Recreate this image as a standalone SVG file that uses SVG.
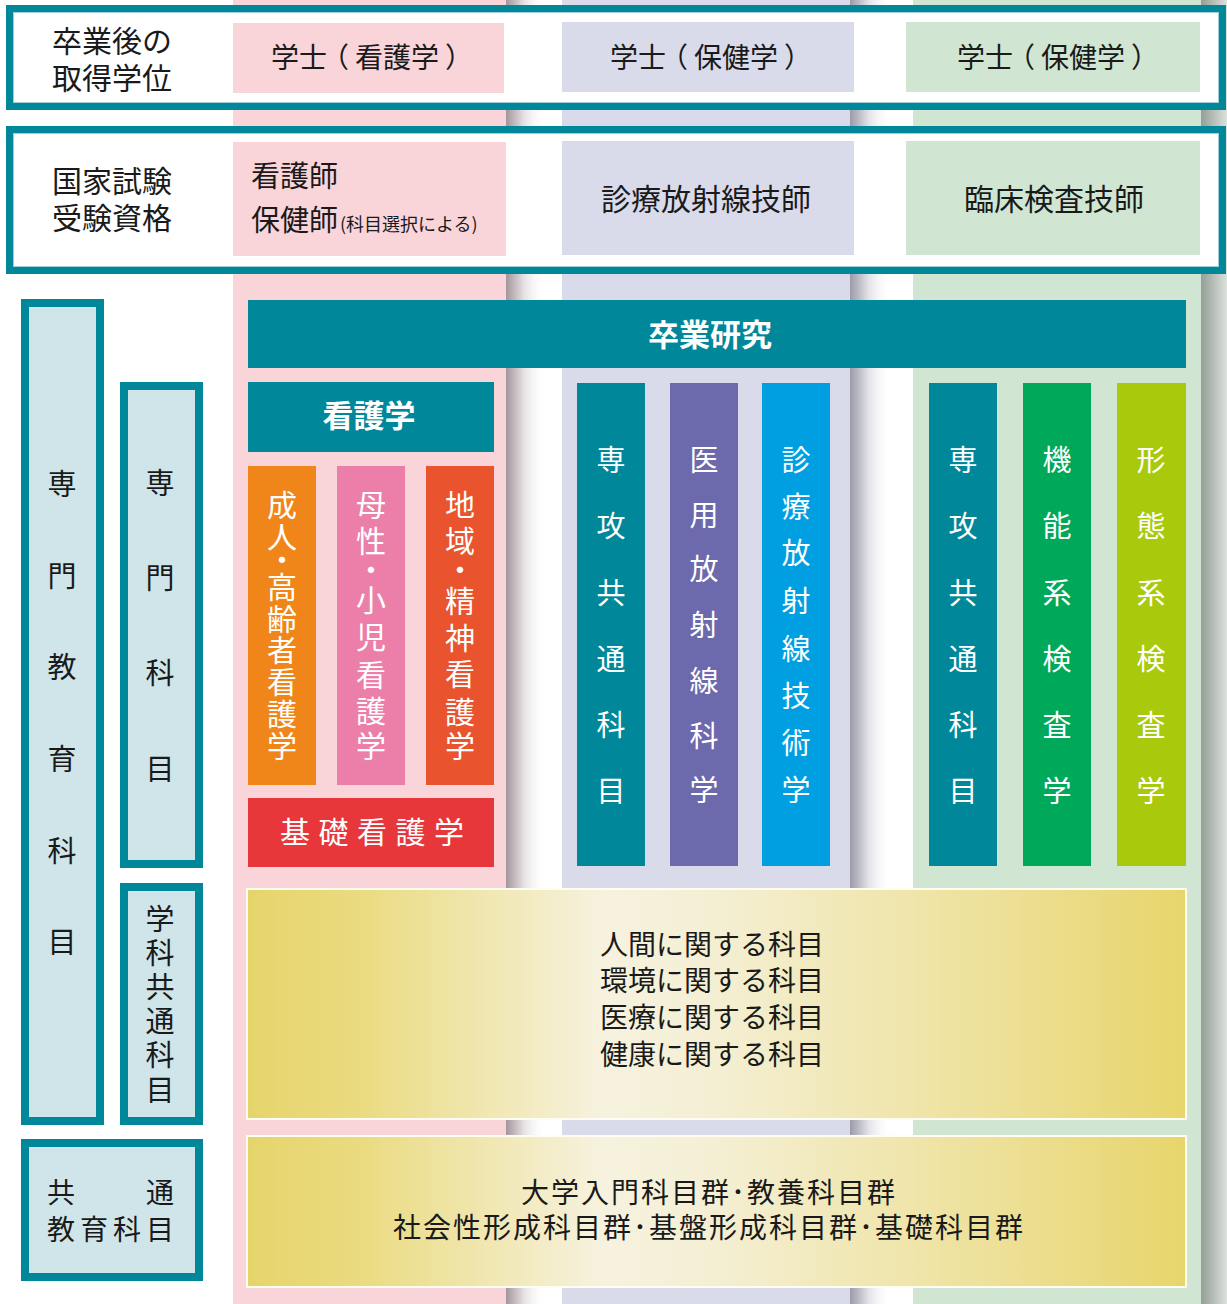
<svg xmlns="http://www.w3.org/2000/svg" width="1227" height="1304" viewBox="0 0 1227 1304">
<defs>
<style>
.t{font-family:"Noto Sans CJK JP","Noto Sans CJK SC",sans-serif;}
.dk{fill:#1a1a1a;}
.wt{fill:#ffffff;}
.mid{text-anchor:middle;}
.frame{fill:#ffffff;stroke:#00879a;stroke-width:7;}
.lbox{fill:#cfe5ea;stroke:#00879a;stroke-width:8;}
.inner{fill:none;stroke:#9fd0d8;stroke-width:1;}
.gbox{fill:url(#yg);stroke:#fffdf2;stroke-width:2;}
</style>
<linearGradient id="yg" x1="0" y1="0" x2="1" y2="0">
<stop offset="0" stop-color="#e6d46b"/>
<stop offset="0.12" stop-color="#eadb80"/>
<stop offset="0.38" stop-color="#f6f2df"/>
<stop offset="0.5" stop-color="#f4efd3"/>
<stop offset="0.78" stop-color="#eee19c"/>
<stop offset="1" stop-color="#e7d56b"/>
</linearGradient>
<linearGradient id="shP" x1="0" y1="0" x2="1" y2="0">
<stop offset="0" stop-color="#a3959b"/>
<stop offset="0.45" stop-color="#e6e1e3"/>
<stop offset="1" stop-color="#ffffff" stop-opacity="0"/>
</linearGradient>
<linearGradient id="shL" x1="0" y1="0" x2="1" y2="0">
<stop offset="0" stop-color="#9b9aa8"/>
<stop offset="0.45" stop-color="#e3e3e8"/>
<stop offset="1" stop-color="#ffffff" stop-opacity="0"/>
</linearGradient>
<linearGradient id="shG" x1="0" y1="0" x2="1" y2="0">
<stop offset="0" stop-color="#949e96"/>
<stop offset="0.6" stop-color="#d6dbd7"/>
<stop offset="1" stop-color="#ffffff" stop-opacity="0"/>
</linearGradient>
</defs>

<rect x="0" y="0" width="1227" height="1304" fill="#ffffff"/>

<g id="columns">
<rect x="233" y="0" width="273" height="1304" fill="#f9d5da"/>
<rect x="506" y="0" width="40" height="1304" fill="url(#shP)"/>
<rect x="562" y="0" width="288" height="1304" fill="#d9dbeb"/>
<rect x="850" y="0" width="42" height="1304" fill="url(#shL)"/>
<rect x="913" y="0" width="288" height="1304" fill="#d0e6d2"/>
<rect x="1201" y="0" width="40" height="1304" fill="url(#shG)"/>
</g>

<g id="header-degree">
<rect class="frame" x="9.5" y="8.5" width="1213" height="98"/>
<rect class="inner" x="13.5" y="12.5" width="1205" height="90"/>
<text class="t dk" font-size="30"><tspan x="52" y="52">卒業後の</tspan><tspan x="52" y="89">取得学位</tspan></text>
<g id="deg-nursing">
<rect x="233" y="23" width="271" height="70" fill="#f9d5da"/>
<text class="t dk" font-size="28" x="271 299 321 355 383 411 445" y="68">学士（看護学）</text>
</g>
<g id="deg-radiology">
<rect x="562" y="22" width="292" height="70" fill="#d9dbeb"/>
<text class="t dk" font-size="28" x="610 638 660 694 722 750 784" y="68">学士（保健学）</text>
</g>
<g id="deg-lab">
<rect x="906" y="22" width="294" height="70" fill="#d0e6d2"/>
<text class="t dk" font-size="28" x="957 985 1007 1041 1069 1097 1131" y="68">学士（保健学）</text>
</g>
</g>

<g id="header-license">
<rect class="frame" x="9.5" y="129.5" width="1213" height="141"/>
<rect class="inner" x="13.5" y="133.5" width="1205" height="133"/>
<text class="t dk" font-size="30"><tspan x="52" y="192">国家試験</tspan><tspan x="52" y="229">受験資格</tspan></text>
<g id="lic-nursing">
<rect x="233" y="142" width="273" height="114" fill="#f9d5da"/>
<text class="t dk" font-size="29" x="251" y="187">看護師</text>
<text class="t dk" font-size="29" x="251" y="231">保健師<tspan font-size="18" dx="2">(科目選択による)</tspan></text>
</g>
<g id="lic-radiology">
<rect x="562" y="141" width="292" height="114" fill="#d9dbeb"/>
<text class="t dk mid" font-size="30" x="706" y="210">診療放射線技師</text>
</g>
<g id="lic-lab">
<rect x="906" y="141" width="294" height="114" fill="#d0e6d2"/>
<text class="t dk mid" font-size="30" x="1054" y="210">臨床検査技師</text>
</g>
</g>

<g id="left-senmon-kyoiku">
<rect class="lbox" x="25" y="303" width="75" height="818"/>
<text class="t dk mid" font-size="29" x="62 62 62 62 62 62" y="495 587 678 770 862 953">専門教育科目</text>
</g>
<g id="left-senmon-kamoku">
<rect class="lbox" x="124" y="386" width="75" height="478"/>
<text class="t dk mid" font-size="29" x="160 160 160 160" y="494 589 684 780">専門科目</text>
</g>
<g id="left-gakka">
<rect class="lbox" x="124" y="887" width="75" height="234"/>
<text class="t dk mid" font-size="29" x="160 160 160 160 160 160" y="930 964 998 1032 1066 1101">学科共通科目</text>
</g>
<g id="left-kyotsu">
<rect class="lbox" x="25" y="1143" width="174" height="134"/>
<text class="t dk" font-size="28" letter-spacing="5"><tspan x="47" y="1203">共　　通</tspan><tspan x="47" y="1240">教育科目</tspan></text>
</g>

<g id="sotsugyo-kenkyu">
<rect x="248" y="300" width="938" height="68" fill="#00879a"/>
<text class="t wt mid" font-size="31" font-weight="bold" x="710" y="346">卒業研究</text>
</g>

<g id="kangogaku">
<rect x="248" y="382" width="246" height="70" fill="#00879a"/>
<text class="t wt mid" font-size="31" font-weight="bold" x="369" y="427">看護学</text>
</g>

<g id="seijin">
<rect x="248" y="466" width="68" height="319" fill="#f08619"/>
<text class="t wt mid" font-size="30" x="282 282 282 282 282 282 282 282 282" y="516 548 571 598 630 661 693 725 757">成人・高齢者看護学</text>
</g>
<g id="bosei">
<rect x="337" y="466" width="68" height="319" fill="#ec7fa9"/>
<text class="t wt mid" font-size="30" x="371 371 371 371 371 371 371 371" y="516 552 581 611 648 686 722 757">母性・小児看護学</text>
</g>
<g id="chiiki">
<rect x="426" y="466" width="68" height="319" fill="#e9532e"/>
<text class="t wt mid" font-size="30" x="460 460 460 460 460 460 460 460" y="516 552 581 612 649 685 723 757">地域・精神看護学</text>
</g>
<g id="kiso-kango">
<rect x="248" y="798" width="246" height="69" fill="#e8373a"/>
<text class="t wt" font-size="30" letter-spacing="8.5" x="280" y="843">基礎看護学</text>
</g>

<g id="rad-common">
<rect x="577" y="383" width="68" height="483" fill="#00879a"/>
<text class="t wt mid" font-size="29" x="611 611 611 611 611 611" y="471 537 604 670 736 802">専攻共通科目</text>
</g>
<g id="rad-science">
<rect x="670" y="383" width="68" height="483" fill="#6c69ad"/>
<text class="t wt mid" font-size="29" x="704 704 704 704 704 704 704" y="471 526 580 636 692 747 801">医用放射線科学</text>
</g>
<g id="rad-tech">
<rect x="762" y="383" width="68" height="483" fill="#009fe2"/>
<text class="t wt mid" font-size="29" x="796 796 796 796 796 796 796 796" y="471 518 564 612 660 707 754 801">診療放射線技術学</text>
</g>

<g id="lab-common">
<rect x="929" y="383" width="68" height="483" fill="#00879a"/>
<text class="t wt mid" font-size="29" x="963 963 963 963 963 963" y="471 537 604 670 736 802">専攻共通科目</text>
</g>
<g id="lab-function">
<rect x="1023" y="383" width="68" height="483" fill="#00a85a"/>
<text class="t wt mid" font-size="29" x="1057 1057 1057 1057 1057 1057" y="471 537 604 670 736 802">機能系検査学</text>
</g>
<g id="lab-morph">
<rect x="1117" y="383" width="69" height="483" fill="#a9c90d"/>
<text class="t wt mid" font-size="29" x="1151 1151 1151 1151 1151 1151" y="471 537 604 670 736 802">形態系検査学</text>
</g>

<g id="gakka-kyotsu-subjects">
<rect class="gbox" x="247" y="889" width="939" height="230"/>
<text class="t dk mid" font-size="28"><tspan x="712" y="955">人間に関する科目</tspan><tspan x="712" y="991">環境に関する科目</tspan><tspan x="712" y="1028">医療に関する科目</tspan><tspan x="712" y="1065">健康に関する科目</tspan></text>
</g>

<g id="kyotsu-subjects">
<rect class="gbox" x="247" y="1136" width="939" height="151"/>
<text class="t dk mid" font-size="28" letter-spacing="2"><tspan x="709" y="1203">大学入門科目群･教養科目群</tspan><tspan x="709" y="1238">社会性形成科目群･基盤形成科目群･基礎科目群</tspan></text>
</g>
</svg>
